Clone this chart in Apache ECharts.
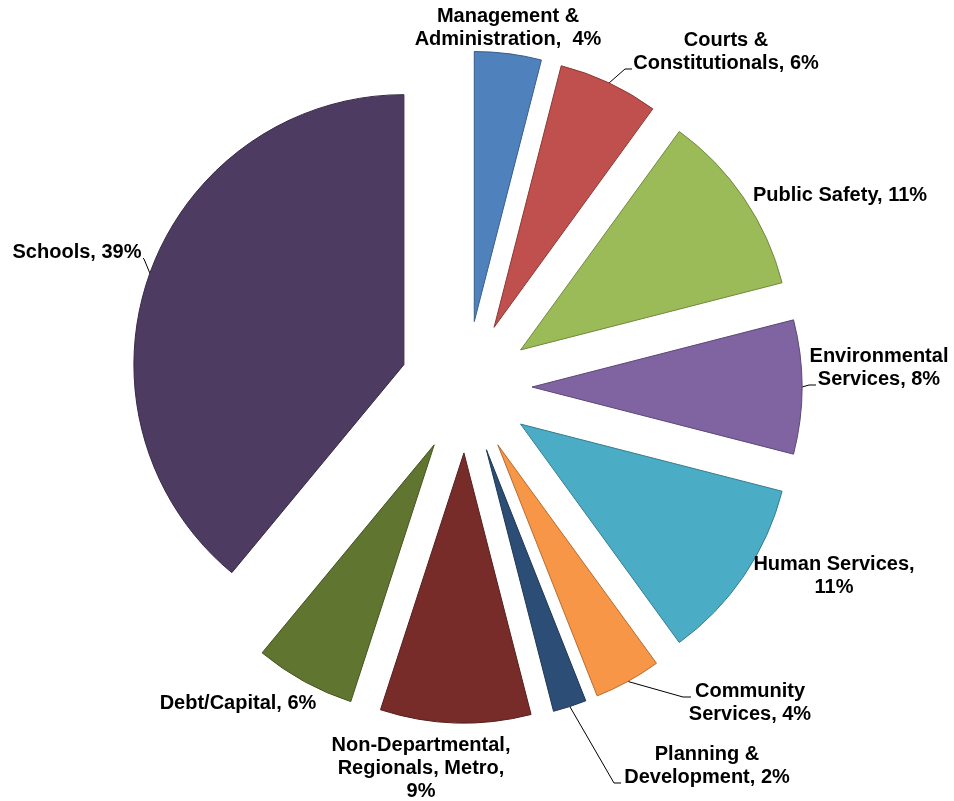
<!DOCTYPE html>
<html><head><meta charset="utf-8">
<script src="https://cdn.jsdelivr.net/npm/echarts@6/dist/echarts.min.js"></script>
<style>html,body{margin:0;padding:0;background:#fff}#chart{width:954px;height:801px}</style>
</head><body><div id="chart"></div>
<script>
const categories = ['Management & Administration','Courts & Constitutionals','Public Safety','Environmental Services','Human Services','Community Services','Planning & Development','Non-Departmental, Regionals, Metro','Debt/Capital','Schools'];
const values = [4, 6, 11, 8, 11, 4, 2, 9, 6, 39];
const labelTexts = ['Management &\nAdministration,  4%', 'Courts &\nConstitutionals, 6%', 'Public Safety, 11%', 'Environmental\nServices, 8%', 'Human Services,\n11%', 'Community\nServices, 4%', 'Planning &\nDevelopment, 2%', 'Non-Departmental,\nRegionals, Metro,\n9%', 'Debt/Capital, 6%', 'Schools, 39%'];
const fillColors = ['#4F81BD','#C0504D','#9BBB59','#8064A2','#4BACC6','#F79646','#2C4D75','#772C2A','#5F7530','#4D3B62'];
const borderColors = ['#385D8A','#8C3836','#71893F','#5C4776','#357D91','#B66D31','#1F3753','#561F1E','#44541F','#372A47'];

// layout only
const pieCenter = [466, 387];
const pieRadius = 270;
const explode = 66;
const labelPos = [[508,28],[726,52],[840,195],[879,368],[834,576],[750,703],[707,766],[421,768],[238,703],[77,252]];
const leaderBends = [null, [[625,69],[632,69]], null, [[809,385],[816,385]], null, [[683,697],[691,697]], [[614,783],[621,783]], null, null, [[144,259],[143,258]]];

const total = values.reduce((a, b) => a + b, 0);
let cum = 0;
const series = values.map((v, i) => {
  const mid = (cum + v / 2) / total * 2 * Math.PI;
  cum += v;
  const cx = pieCenter[0] + explode * Math.sin(mid);
  const cy = pieCenter[1] - explode * Math.cos(mid);
  const p0 = [cx + pieRadius * Math.sin(mid), cy - pieRadius * Math.cos(mid)];
  return {
    type: 'pie', center: [cx, cy], radius: [0, pieRadius], startAngle: 90, clockwise: true,
    avoidLabelOverlap: false, silent: true, animation: false,
    label: { position: 'outside', fontFamily: 'Liberation Sans, Arial, sans-serif', fontWeight: 'bold', fontSize: 20, lineHeight: 23, color: '#000' },
    labelLine: { lineStyle: { color: '#000', width: 1 } },
    emphasis: { disabled: true },
    data: values.map((vv, j) => ({
      name: categories[j], value: vv,
      itemStyle: j === i ? { color: fillColors[j], borderColor: borderColors[j], borderWidth: 1 } : { color: 'rgba(0,0,0,0)', borderWidth: 0 },
      label: { show: j === i, formatter: labelTexts[j] },
      labelLine: { show: j === i && leaderBends[j] !== null }
    })),
    labelLayout: (params) => {
      if (params.dataIndex !== i) return {};
      const r = { x: labelPos[i][0], y: labelPos[i][1], align: 'center', verticalAlign: 'middle' };
      if (leaderBends[i]) r.labelLinePoints = [p0, leaderBends[i][0], leaderBends[i][1]];
      return r;
    }
  };
});

const chart = echarts.init(document.getElementById('chart'));
chart.setOption({ backgroundColor: '#fff', animation: false, series: series });
</script>
</body></html>
